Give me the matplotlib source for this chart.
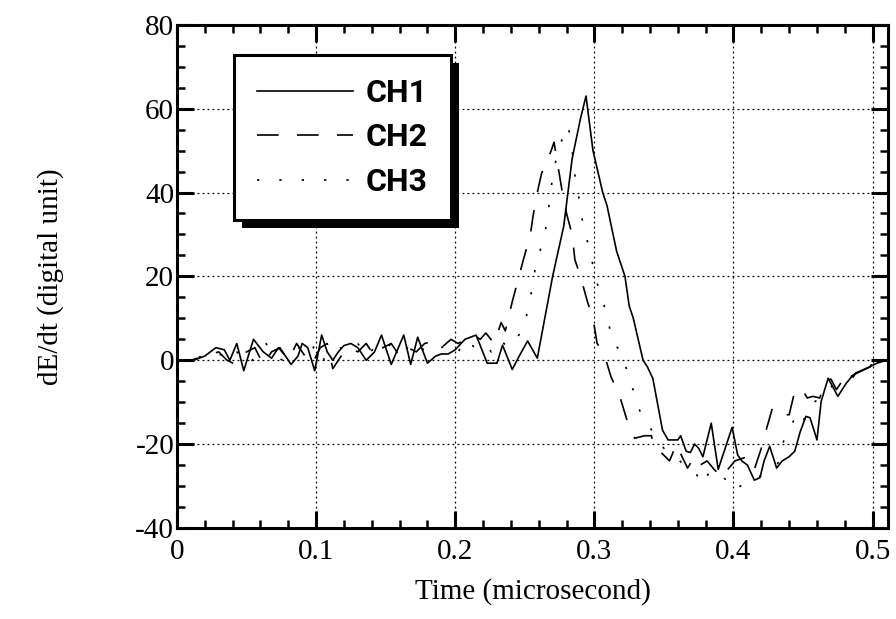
import matplotlib
matplotlib.use("Agg")
import matplotlib.pyplot as plt
from matplotlib.patches import Rectangle
from matplotlib.transforms import IdentityTransform
from matplotlib.ticker import MultipleLocator, FuncFormatter

# (time in microsecond, dE/dt in digital units)
ch1 = [(0, 0), (0.012, 0), (0.02, 1), (0.028, 3), (0.034, 2.5), (0.038, 0), (0.043, 4),
       (0.048, -2.5), (0.055, 5), (0.062, 2), (0.068, 0.5), (0.073, 3), (0.078, 1),
       (0.082, -1), (0.087, 1), (0.09, 4), (0.094, 3), (0.099, -2.5), (0.104, 6),
       (0.108, 2), (0.112, 0), (0.116, 2), (0.12, 3.5), (0.125, 4), (0.13, 3),
       (0.136, 0), (0.142, 2), (0.147, 6), (0.154, -1), (0.163, 6), (0.168, -1),
       (0.173, 5.5), (0.18, -0.7), (0.186, 1), (0.19, 1.5), (0.195, 1.5), (0.2, 2.5),
       (0.207, 5), (0.215, 6), (0.223, -0.7), (0.23, -0.7), (0.234, 3.6), (0.241, -2.2),
       (0.246, 1), (0.252, 4.6), (0.259, 0.5), (0.27, 20), (0.278, 32), (0.284, 48),
       (0.29, 57.6), (0.294, 63), (0.299, 50), (0.306, 40), (0.309, 37), (0.316, 26),
       (0.322, 20), (0.325, 13), (0.328, 10), (0.335, 0), (0.338, -1.5), (0.342, -4.3),
       (0.349, -16.7), (0.353, -19), (0.36, -19), (0.362, -18), (0.366, -21.7),
       (0.369, -22), (0.372, -20), (0.375, -21), (0.378, -23), (0.384, -15), (0.389, -26),
       (0.394, -21), (0.399, -16), (0.403, -22.6), (0.406, -24), (0.41, -25),
       (0.415, -28.6), (0.419, -28), (0.422, -24), (0.426, -20.5), (0.431, -25.7),
       (0.435, -24), (0.44, -23), (0.444, -21.7), (0.448, -17), (0.452, -13.4),
       (0.455, -13.7), (0.46, -19), (0.463, -9.8), (0.468, -4.3), (0.475, -8.6),
       (0.481, -5.5), (0.486, -3.5), (0.493, -2.4), (0.503, -0.7), (0.51, 0)]

ch2 = [(0, 0), (0.01, 0), (0.02, 1), (0.03, 2), (0.036, 0), (0.042, -1), (0.05, 2),
       (0.056, 3), (0.062, -1), (0.068, 2), (0.074, 3), (0.08, 0), (0.086, 4), (0.092, 1),
       (0.097, -1), (0.103, 3), (0.108, 4), (0.112, -2), (0.118, 1), (0.124, 3),
       (0.13, 2), (0.136, 4), (0.142, 1), (0.148, 3), (0.154, 4), (0.16, 1), (0.166, 3),
       (0.172, 2), (0.178, 4), (0.184, 4.5), (0.19, 3), (0.197, 5), (0.202, 4),
       (0.208, 5), (0.213, 6), (0.218, 5), (0.222, 6.5), (0.228, 4), (0.233, 9),
       (0.236, 7), (0.241, 14), (0.245, 19), (0.249, 24), (0.254, 30), (0.256, 34.5),
       (0.259, 40), (0.262, 44.5), (0.269, 50), (0.271, 52), (0.274, 46), (0.277, 40),
       (0.28, 35), (0.284, 30), (0.286, 24), (0.29, 20), (0.295, 14), (0.299, 10),
       (0.302, 4), (0.307, 1.5), (0.312, -4), (0.318, -8.3), (0.323, -13.8),
       (0.329, -18.6), (0.336, -18), (0.341, -18), (0.343, -21), (0.348, -22),
       (0.354, -24), (0.359, -20), (0.363, -23), (0.367, -25.7), (0.372, -23),
       (0.376, -25), (0.381, -24), (0.386, -26), (0.392, -28), (0.396, -26), (0.401, -24),
       (0.41, -23), (0.415, -26), (0.421, -20), (0.424, -16), (0.428, -11.4),
       (0.433, -11.4), (0.437, -13), (0.44, -13), (0.444, -7.4), (0.449, -6.7),
       (0.453, -9), (0.457, -8.6), (0.462, -9), (0.466, -5), (0.47, -4.5), (0.474, -7),
       (0.478, -5), (0.482, -6), (0.488, -3), (0.495, -2), (0.503, -1), (0.51, 0)]

ch3 = [(0, 0), (0.01, 0), (0.018, 1), (0.026, 2), (0.034, 1), (0.04, 3), (0.046, 1),
       (0.052, -1), (0.058, 2), (0.064, 4), (0.07, 1), (0.076, 0), (0.082, 2), (0.088, 3),
       (0.094, 1), (0.1, 4), (0.106, 0), (0.112, 2), (0.118, 3), (0.124, 2), (0.13, 4),
       (0.136, 1), (0.142, 3), (0.148, 2), (0.154, 4), (0.16, 2), (0.166, 3), (0.172, 1),
       (0.178, 3), (0.184, 2), (0.19, 3), (0.196, 4), (0.202, 2), (0.208, 5), (0.214, 3),
       (0.22, 4), (0.226, 2), (0.232, 5), (0.238, 3), (0.243, 5), (0.25, 7.6),
       (0.252, 12.4), (0.256, 18), (0.258, 23.5), (0.263, 28), (0.266, 33),
       (0.268, 38.6), (0.27, 43.8), (0.273, 48.6), (0.278, 54), (0.281, 56), (0.284, 51),
       (0.285, 45.7), (0.288, 41), (0.29, 35.7), (0.293, 30.7), (0.297, 26), (0.3, 20.7),
       (0.305, 15), (0.31, 10), (0.312, 5), (0.319, 2), (0.324, -3), (0.329, -8.3),
       (0.334, -13.4), (0.34, -16), (0.345, -19), (0.35, -21), (0.354, -22.5),
       (0.358, -23), (0.363, -24.5), (0.368, -25), (0.373, -27), (0.378, -29.7),
       (0.382, -27), (0.386, -26.5), (0.39, -28), (0.392, -27.7), (0.396, -29),
       (0.4, -31), (0.405, -30), (0.41, -29), (0.416, -28), (0.424, -27), (0.428, -26),
       (0.432, -24.5), (0.437, -18), (0.444, -14), (0.449, -16), (0.453, -11.4),
       (0.458, -10), (0.462, -9), (0.467, -7), (0.472, -6), (0.478, -5), (0.484, -4),
       (0.49, -2.6), (0.5, -1), (0.51, 0)]

labels = ["CH1", "CH2", "CH3"]
styles = ["-", (0, (13, 11)), (0, (1.4, 12))]

plt.rcParams['font.family'] = ['Liberation Serif', 'DejaVu Serif']

fig = plt.figure(figsize=(8.96, 6.19), dpi=100)
ax = fig.add_axes([0.1975, 0.147, 0.7935, 0.813])

for data, lab, ls in zip([ch1, ch2, ch3], labels, styles):
    t = [p[0] for p in data]
    v = [p[1] for p in data]
    ax.plot(t, v, color='black', linestyle=ls, linewidth=1.2, label=lab)

ax.set_xlim(0, 0.511)
ax.set_ylim(-40, 80)
ax.xaxis.set_major_locator(MultipleLocator(0.1))
ax.xaxis.set_minor_locator(MultipleLocator(0.02))
ax.yaxis.set_major_locator(MultipleLocator(20))
ax.yaxis.set_minor_locator(MultipleLocator(5))
ax.xaxis.set_major_formatter(FuncFormatter(lambda x, p: "0" if abs(x) < 1e-9 else f"{x:.1f}"))
ax.yaxis.set_major_formatter(FuncFormatter(lambda y, p: f"{y:.0f}"))

ax.tick_params(which='both', direction='in', top=True, right=True, labelsize=21)
ax.tick_params(which='major', length=12, width=2.2)
ax.tick_params(which='minor', length=6, width=1.8)
ax.tick_params(axis='x', pad=8)
ax.tick_params(axis='y', pad=2)
for s in ax.spines.values():
    s.set_linewidth(2.2)

ax.grid(True, which='major', color='black', linestyle=(0, (1.5, 2.5)), linewidth=0.9)

ax.set_xlabel("Time (microsecond)", fontsize=21, labelpad=9)
ax.set_ylabel("dE/dt (digital unit)", fontsize=21, labelpad=51)

leg = ax.legend(loc='upper left', bbox_to_anchor=(0.080, 0.940), borderaxespad=0,
                fancybox=False, edgecolor='black', framealpha=1,
                handlelength=3.0, handletextpad=0.42, borderpad=0.72, labelspacing=0.45,
                prop={'family': ['Roboto', 'DejaVu Sans'], 'weight': 'bold', 'size': 23})
leg.get_frame().set_linewidth(2.2)
for line in leg.get_lines():
    line.set_linewidth(1.2)

fig.canvas.draw()
bb = leg.get_frame().get_window_extent()
shadow = Rectangle((bb.x0 + 8, bb.y0 - 8), bb.width, bb.height, transform=IdentityTransform(),
                   facecolor='black', edgecolor='none', zorder=4.9)
ax.add_artist(shadow)

fig.savefig("out.png", dpi=100)
